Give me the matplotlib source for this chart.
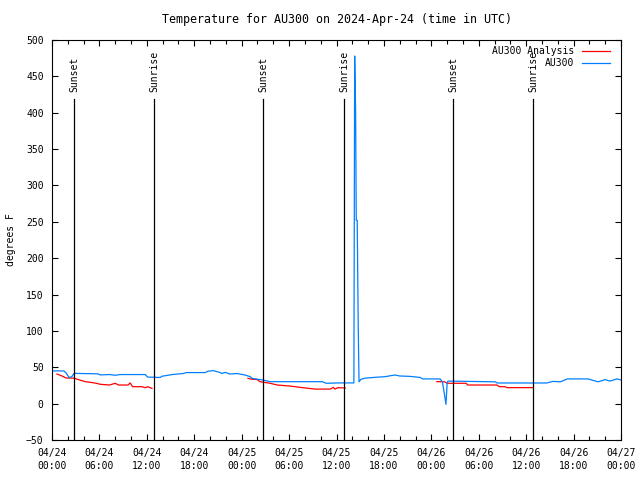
import matplotlib
matplotlib.use('Agg')
import matplotlib.pyplot as plt
from matplotlib.ticker import MultipleLocator, FuncFormatter

plt.rcParams['font.family'] = ['DejaVu Sans Mono']
plt.rcParams['font.size'] = 7

# ---- data (hours since 2024-04-24 00:00 UTC) ----
obs_hours = [0, 1.5, 1.8, 2.15, 2.5, 2.8, 5.8, 6.1, 7.3, 8.0, 8.6, 11.8, 12.1, 13.7, 13.9,
             15.2, 16.6, 17.0, 19.4, 19.7, 20.4, 21.3, 21.5, 21.9, 22.5, 23.4, 24.4, 25.1,
             25.3, 26.1, 26.7, 27.6, 34.2, 34.7, 36.4, 38.2, 38.3, 38.42, 38.5, 38.62, 38.75,
             38.85, 39.1, 39.6, 40.9, 42.1, 43.4, 44.0, 45.3, 46.6, 46.9, 49.1, 49.4, 49.7,
             49.85, 50.0, 50.1, 56.1, 56.3, 62.6, 63.4, 64.3, 64.9, 65.2, 67.8, 68.3, 69.1,
             70.0, 70.6, 71.5, 72.0]
obs_temps = [45, 45, 42, 36, 37, 41.6, 41, 39.5, 40, 39, 40, 40, 36.5, 36, 37.6,
             40, 41.4, 42.7, 42.7, 44.5, 45.4, 42.7, 41.4, 43, 40.7, 41.4, 39.4, 37,
             34.8, 33.4, 32.5, 30.2, 30.2, 28, 28.5, 28.5, 478, 401, 252, 252, 105,
             30, 33.5, 35, 36.2, 37, 39.4, 38, 37.5, 36, 34, 34, 30, 10,
             -1, 28, 31, 30, 28.4, 28.4, 30.6, 30, 32.5, 34, 34, 32.5, 30,
             33, 31, 34, 32.5]

ana1_hours = [0.63, 1.27, 1.77, 2.78, 3.5, 4.2, 4.8, 5.6, 6.1, 7.3, 8.0, 8.4, 9.6, 9.9,
              10.2, 11.4, 11.8, 12.1, 12.65]
ana1_temps = [40.75, 38, 35.3, 35, 32.5, 30.2, 29.4, 28, 26.6, 25.6, 28, 25.6, 25.6, 28.4,
              23.3, 23.3, 21.9, 23.3, 21]
ana2_hours = [24.8, 25.4, 25.9, 26.3, 27.6, 28.5, 30.1, 31.4, 33.3, 35.2, 35.6, 35.8, 36.2, 37.1]
ana2_temps = [34.8, 33.4, 33.4, 30.2, 28, 25.6, 24.2, 22.4, 20, 20, 22.4, 20, 22, 21.5]
ana3_hours = [48.7, 49.7, 50.0, 52.4, 52.6, 56.3, 56.6, 57.3, 57.6, 60.9]
ana3_temps = [30.3, 30, 28, 28, 25.6, 25.6, 23.3, 23.3, 22, 22]

sun_hours = [2.78, 12.9, 26.7, 36.95, 50.74, 60.86]
sun_labels = ['Sunset', 'Sunrise', 'Sunset', 'Sunrise', 'Sunset', 'Sunrise']
sun_top = 419
sun_label_y = 428

title = 'Temperature for AU300 on 2024-Apr-24 (time in UTC)'
red = '#ff0000'
blue = '#0080ff'

fig = plt.figure(figsize=(6.4, 4.8), dpi=100)
ax = fig.add_axes([52/640, 40/480, 569/640, 400/480])

ax.plot(ana1_hours, ana1_temps, color=red, lw=0.9, label='AU300 Analysis')
ax.plot(ana2_hours, ana2_temps, color=red, lw=0.9)
ax.plot(ana3_hours, ana3_temps, color=red, lw=0.9)
ax.plot(obs_hours, obs_temps, color=blue, lw=0.9, label='AU300')

for h, lab in zip(sun_hours, sun_labels):
    ax.plot([h, h], [-50, sun_top], color='black', lw=0.9)
    ax.text(h, sun_label_y, lab, rotation=90, ha='center', va='bottom')

ax.set_xlim(0, 72)
ax.set_ylim(-50, 500)
ax.yaxis.set_major_locator(MultipleLocator(50))
ax.xaxis.set_major_locator(MultipleLocator(6))
ax.xaxis.set_minor_locator(MultipleLocator(2))

def fmt(h, pos):
    h = int(round(h))
    day = 24 + h // 24
    return '04/%02d\n%02d:00' % (day, h % 24)

ax.xaxis.set_major_formatter(FuncFormatter(fmt))
ax.tick_params(axis='both', which='major', direction='in', length=4.5, width=0.8,
               top=True, right=True)
ax.tick_params(axis='x', which='major', pad=6)
ax.tick_params(axis='y', which='major', pad=6)
ax.tick_params(axis='x', which='minor', direction='in', length=3, width=0.8,
               top=True, bottom=True)
plt.setp(ax.get_xticklabels(), linespacing=1.35)

ax.set_ylabel('degrees F')
ax.yaxis.set_label_coords((16 - 52) / 569, 0.5)
ax.set_title(title, pad=12)

leg = ax.legend(loc='upper right', bbox_to_anchor=(1 - 11/569, 1 - 6/400),
                markerfirst=False, frameon=False, borderpad=0, borderaxespad=0,
                handlelength=2.9, handletextpad=0.75, labelspacing=0.22)

fig.savefig('out.png', dpi=100)
